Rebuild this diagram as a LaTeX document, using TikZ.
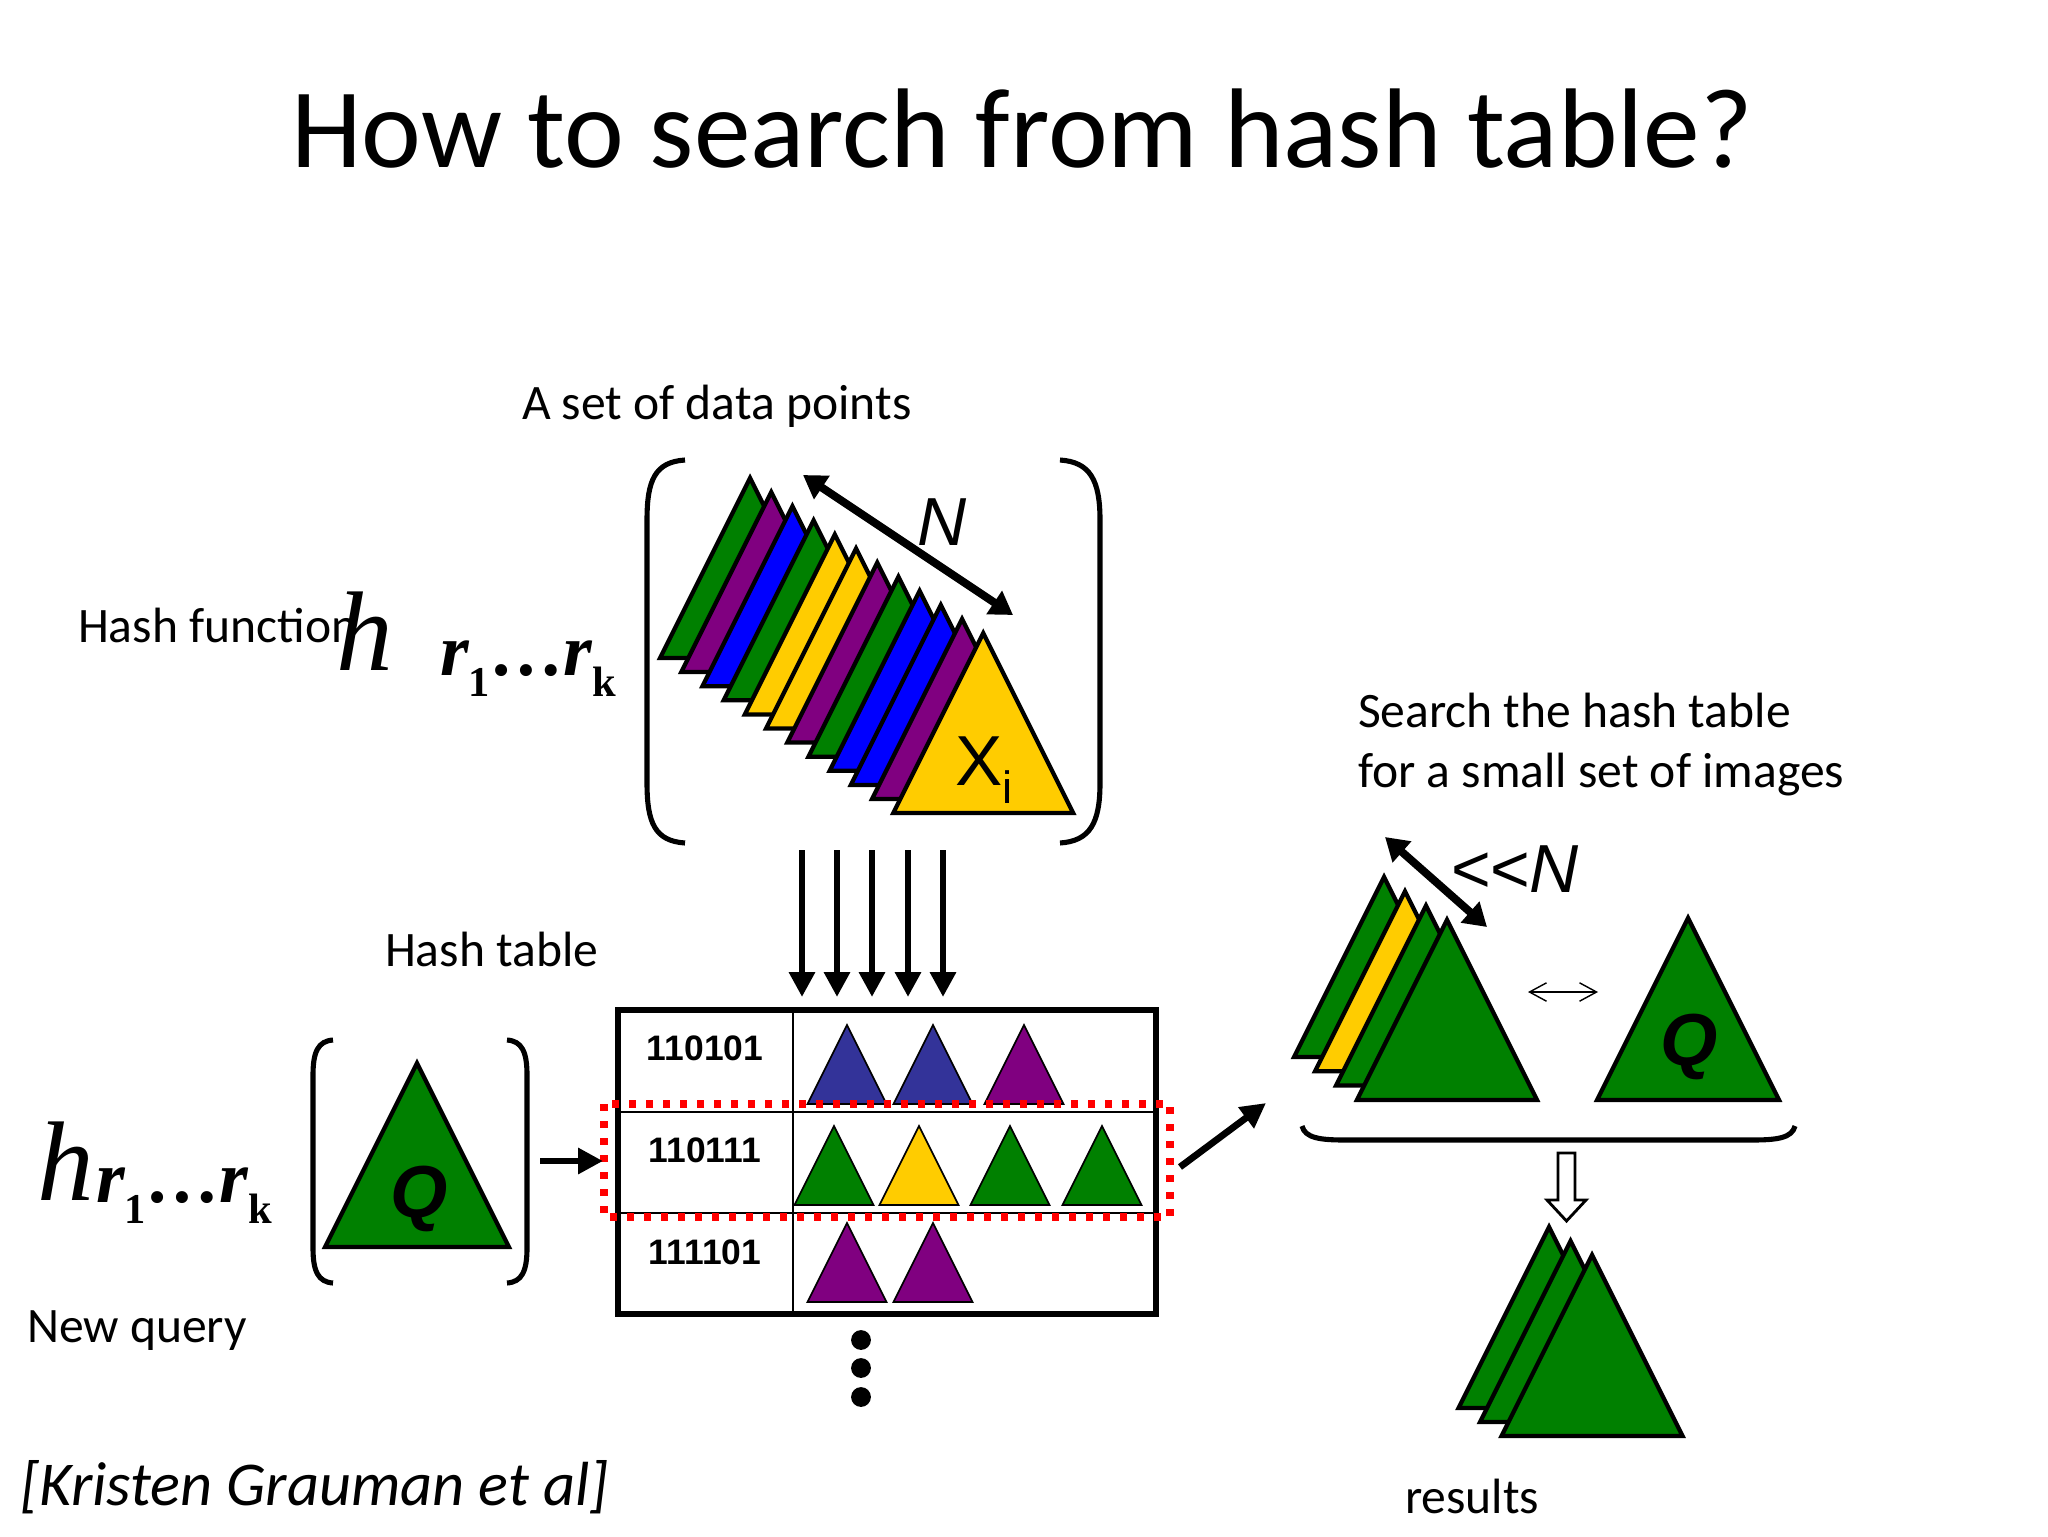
\documentclass[tikz,border=0pt]{standalone}
\usepackage{fontspec}
\setmainfont{Carlito}
\newfontfamily\arialfont{Liberation Sans}
\newfontfamily\timesfont{Liberation Serif}
\usetikzlibrary{arrows.meta}

\definecolor{tgreen}{RGB}{0,128,0}
\definecolor{tpurple}{RGB}{128,0,128}
\definecolor{tblue}{RGB}{0,0,255}
\definecolor{tyellow}{RGB}{255,204,0}
\definecolor{tnavy}{RGB}{51,51,153}

% apex x, apex y, size, fill, line width
\newcommand{\datatri}[5]{%
  \filldraw[fill=#4, line width=#5] ({#1},{#2}) -- ++({#3/2},{#3}) -- ++({-#3},0) -- cycle;}
\newcommand{\rseq}{{\timesfont\bfseries\fontsize{26}{26}\selectfont\itshape r\raisebox{-7.5pt}{\upshape\fontsize{15}{15}\selectfont 1}\upshape\ldots\itshape r\raisebox{-7.5pt}{\upshape\fontsize{15}{15}\selectfont k}}}

\begin{document}
\begin{tikzpicture}[x=0.0124023cm, y=-0.0124023cm,
  every node/.style={inner sep=0pt, outer sep=0pt},
  txt/.style={font=\fontsize{17.5}{21}\selectfont, anchor=base west},
  code/.style={font=\arialfont\bfseries\fontsize{12.5}{12.5}\selectfont, anchor=base},
  qlbl/.style={font=\arialfont\bfseries\itshape\fontsize{26}{26}\selectfont},
  hlbl/.style={font=\timesfont\itshape\fontsize{40}{40}\selectfont, anchor=base west},
  bigarrow/.style={-{Triangle[length=8.8pt,width=8.8pt]}, line width=2.4pt},
  dblarrow/.style={{Triangle[length=8pt,width=9.5pt]}-{Triangle[length=8pt,width=9.5pt]}, line width=2.8pt},
  bracket/.style={line width=1.8pt}]
\useasboundingbox (0,0) rectangle (2048,1536);

\node[anchor=base, font=\fontsize{40}{40}\selectfont] (title) at (1022,167) {How to search from hash table?};

% data points
\node[txt] (setlbl) at (522,419) {A set of data points};
\draw[bracket] (685,460) .. controls (655,462) and (647,480) .. (647,520) -- (647,783) .. controls (647,823) and (655,841) .. (685,843);
\draw[bracket] (1060,460) .. controls (1090,462) and (1100,480) .. (1100,520) -- (1100,783) .. controls (1100,823) and (1090,841) .. (1060,843);
\foreach \c [count=\i from 0] in {tgreen,tpurple,tblue,tgreen,tyellow,tyellow,tpurple,tgreen,tblue,tblue,tpurple,tyellow}
  \datatri{750+21.2*\i}{478+14.1*\i}{180}{\c}{1.5pt};
\node[anchor=base west, font=\arialfont\fontsize{25}{25}\selectfont] (xi) at (955,785) {X\raisebox{-6.5pt}{\fontsize{16}{16}\selectfont i}};
\coordinate (nA) at (803,475);
\coordinate (nB) at (1013,615);
\draw[dblarrow] (nA) -- (nB);
\node[anchor=base, font=\arialfont\itshape\fontsize{24}{24}\selectfont] (nlbl) at (942,545) {N};

% hash function
\node[txt] (hashfn) at (78,642) {Hash function};
\node[hlbl] (h1) at (336,670) {h};
\node[anchor=base west] (r1) at (440,675) {\rseq};

\foreach \x [count=\k] in {802,837,872,908,943} {
  \coordinate (in\k) at (\x,850);
  \coordinate (out\k) at (\x,997);
  \draw[bigarrow] (in\k) -- (out\k);
}

% hash table
\node[txt] (tbllbl) at (385,966) {Hash table};
\draw[line width=1.8pt] (618,1010) rectangle (1156,1314);
\draw[line width=1pt] (793,1010) -- (793,1314) (618,1112) -- (1156,1112) (618,1213) -- (1156,1213);
\node[code] (row1) at (705,1060) {110101};
\node[code] (row2) at (705,1162) {110111};
\node[code] (row3) at (705,1264) {111101};
\foreach \x/\c in {847/tnavy,933/tnavy,1024/tpurple} \datatri{\x}{1025}{79}{\c}{0.6pt};
\foreach \x/\c in {834/tgreen,919/tyellow,1010/tgreen,1102/tgreen} \datatri{\x}{1126}{79}{\c}{0.6pt};
\foreach \x/\c in {847/tpurple,933/tpurple} \datatri{\x}{1223}{79}{\c}{0.6pt};
\draw[red, line width=2.5pt, dash pattern=on 2.5pt off 3.5pt] (604,1104) rectangle (1170,1217);
\foreach \y in {1340,1368,1397} \fill (861,\y) circle (3.5pt);

% new query
\node[hlbl] (h2) at (37,1200) {h};
\node[anchor=base west] (r2) at (96,1202) {\rseq};
\node[txt] (newq) at (27,1342) {New query};
\draw[bracket] (333,1040) .. controls (318,1041) and (313,1052) .. (313,1075) -- (313,1248) .. controls (313,1271) and (318,1282) .. (333,1283);
\draw[bracket] (507,1040) .. controls (522,1041) and (527,1052) .. (527,1075) -- (527,1248) .. controls (527,1271) and (522,1282) .. (507,1283);
\datatri{417}{1063}{184}{tgreen}{1.5pt};
\node[qlbl] (q1) at (419,1199) {Q};
\coordinate (qfrom) at (540,1161);
\coordinate (qto) at (603,1161);
\draw[bigarrow] (qfrom) -- (qto);

% search result
\coordinate (tfrom) at (1180,1167);
\coordinate (tto) at (1266,1103);
\draw[bigarrow] (tfrom) -- (tto);
\node[txt] (srch1) at (1358,727) {Search the hash table};
\node[txt] (srch2) at (1358,787) {for a small set of images};
\foreach \c [count=\i from 0] in {tgreen,tyellow,tgreen,tgreen}
  \datatri{1384+21*\i}{877+14.3*\i}{180}{\c}{1.5pt};
\coordinate (mA) at (1385,837);
\coordinate (mB) at (1487,927);
\draw[dblarrow] (mA) -- (mB);
\node[anchor=base west, font=\arialfont\itshape\fontsize{24}{24}\selectfont] (lessn) at (1450,892) {<\kern0pt<N};
\coordinate (cA) at (1528,992);
\coordinate (cB) at (1598,992);
\draw[{Straight Barb[length=6pt,width=6.5pt]}-{Straight Barb[length=6pt,width=6.5pt]}, line width=0.5pt] (cA) -- (cB);
\datatri{1688}{918}{182}{tgreen}{1.5pt};
\node[qlbl] (q2) at (1689,1047) {Q};
\draw[bracket] (1302,1126) .. controls (1305,1138) and (1320,1140) .. (1345,1140) -- (1752,1140) .. controls (1777,1140) and (1792,1138) .. (1795,1126);
\filldraw[fill=white, line width=1pt] (1558,1153) -- (1575,1153) -- (1575,1200) -- (1586,1200) -- (1566.5,1221) -- (1547,1200) -- (1558,1200) -- cycle;
\foreach \i in {0,1,2}
  \datatri{1549+21.5*\i}{1227+14*\i}{181}{tgreen}{1.5pt};
\node[txt] (res) at (1405,1513) {results};

\node[anchor=base west, font=\itshape\fontsize{22}{22}\selectfont] (cite) at (20,1505) {[Kristen Grauman et al]};
\end{tikzpicture}
\end{document}
